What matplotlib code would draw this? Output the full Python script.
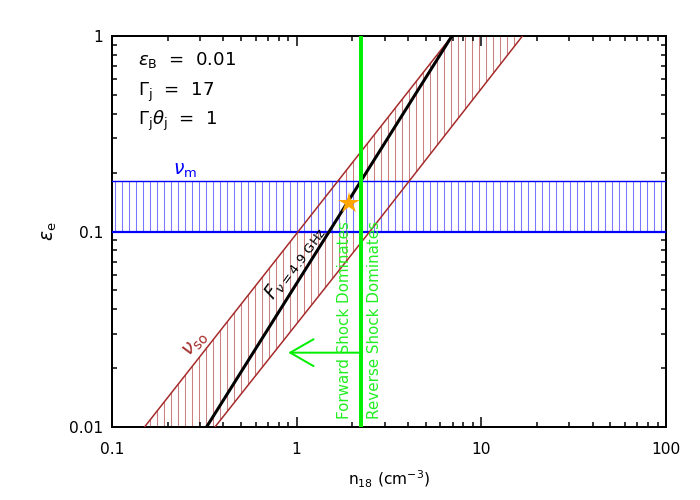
import matplotlib
matplotlib.use('Agg')
import matplotlib.pyplot as plt
from matplotlib.ticker import FixedLocator, LogLocator, NullFormatter

# values (n_18 in cm^-3, epsilon_e)
eps_so = [0.01, 0.1, 1.0]
n_so_left = [0.150, 1.02, 6.93]
n_so_right = [0.361, 2.49, 16.7]
eps_flux = [0.01, 1.0]
n_flux = [0.325, 6.93]
nu_m_band = [0.1, 0.181]
n_crit = 2.22
star_n, star_eps = 1.93, 0.140
arrow_eps = 0.024
arrow_tip_n = 0.90

xticks = [0.1, 1, 10, 100]
xticklabels = ['0.1', '1', '10', '100']
yticks = [0.01, 0.1, 1]
yticklabels = ['0.01', '0.1', '1']

DPI = 84
plt.rcParams['font.family'] = 'DejaVu Sans'
plt.rcParams['mathtext.fontset'] = 'dejavusans'
plt.rcParams['hatch.linewidth'] = 0.9

fig = plt.figure(figsize=(700 / DPI, 500 / DPI), dpi=DPI)
ax = fig.add_axes([112 / 700, 73 / 500, 554 / 700, 391 / 500])
ax.set_xscale('log')
ax.set_yscale('log')
ax.set_xlim(0.1, 100)
ax.set_ylim(0.01, 1)

# nu_so band, hatched
ax.fill_betweenx(eps_so, n_so_left, n_so_right, facecolor='none',
                 edgecolor='#cd8080', hatch='||', linewidth=0, zorder=1)
# nu_m band, hatched
ax.axhspan(nu_m_band[0], nu_m_band[1], facecolor='none',
           edgecolor='#7878ff', hatch='||', linewidth=0, zorder=2)
ax.axhline(nu_m_band[0], color='blue', lw=1.9, zorder=3)
ax.axhline(nu_m_band[1], color='blue', lw=1.2, zorder=3)

ax.plot(n_so_left, eps_so, color='#a52a2a', lw=1.3, zorder=4)
ax.plot(n_so_right, eps_so, color='#a52a2a', lw=1.3, zorder=4)
ax.plot(n_flux, eps_flux, color='black', lw=2.6, zorder=5)

ax.axvline(n_crit, color='#00ee00', lw=3.4, zorder=6)
ax.annotate('', xy=(arrow_tip_n, arrow_eps), xytext=(n_crit, arrow_eps),
            arrowprops=dict(arrowstyle='->, head_length=2.0, head_width=1.15',
                            mutation_scale=10, color='#00ee00', lw=1.7,
                            shrinkA=0, shrinkB=0), zorder=6)

ax.plot(star_n, star_eps, marker='*', color='orange', markersize=19,
        markeredgewidth=0, zorder=7)

green = '#22ee22'
ax.text(1.82, 0.011, 'Forward Shock Dominates', rotation=90, ha='center',
        va='bottom', color=green, fontsize=13, zorder=6)
ax.text(2.64, 0.011, 'Reverse Shock Dominates', rotation=90, ha='center',
        va='bottom', color=green, fontsize=13, zorder=6)

ax.text(0.248, 0.206, r'$\nu_{\rm m}$', color='blue', fontsize=16,
        ha='center', va='center')
ax.text(0.285, 0.0266, r'$\nu_{\rm so}$', color='#a52a2a', fontsize=17,
        ha='center', va='center', rotation=47)
ax.text(0.975, 0.069, r'$F_{\nu=4.9\ \rm GHz}$', color='black', fontsize=16,
        ha='center', va='center', rotation=54)

params = [r'$\epsilon_{\rm B}$  =  0.01', r'$\Gamma_{\rm j}$  =  17',
          r'$\Gamma_{\rm j}\theta_{\rm j}$  =  1']
for i, s in enumerate(params):
    ax.text(0.047, [0.926, 0.847, 0.772][i], s, transform=ax.transAxes,
            fontsize=15.5, va='baseline', ha='left')

ax.xaxis.set_major_locator(FixedLocator(xticks))
ax.set_xticklabels(xticklabels)
ax.yaxis.set_major_locator(FixedLocator(yticks))
ax.set_yticklabels(yticklabels)
ax.xaxis.set_minor_locator(LogLocator(base=10, subs=range(2, 10)))
ax.yaxis.set_minor_locator(LogLocator(base=10, subs=range(2, 10)))
ax.xaxis.set_minor_formatter(NullFormatter())
ax.yaxis.set_minor_formatter(NullFormatter())
ax.tick_params(which='both', direction='in', top=True, right=True,
               labelsize=13.3, width=1.3)
ax.tick_params(which='major', length=8.5)
ax.tick_params(which='minor', length=4.3)
ax.tick_params(axis='x', which='major', pad=13)
ax.tick_params(axis='y', which='major', pad=7.5)
for sp in ax.spines.values():
    sp.set_linewidth(1.7)

ax.set_xlabel(r'n$_{18}$ (cm$^{-3}$)', fontsize=13.3, labelpad=10)
ax.set_ylabel(r'$\epsilon_{\rm e}$', fontsize=16, labelpad=9)

fig.savefig('out.png', dpi=DPI)
